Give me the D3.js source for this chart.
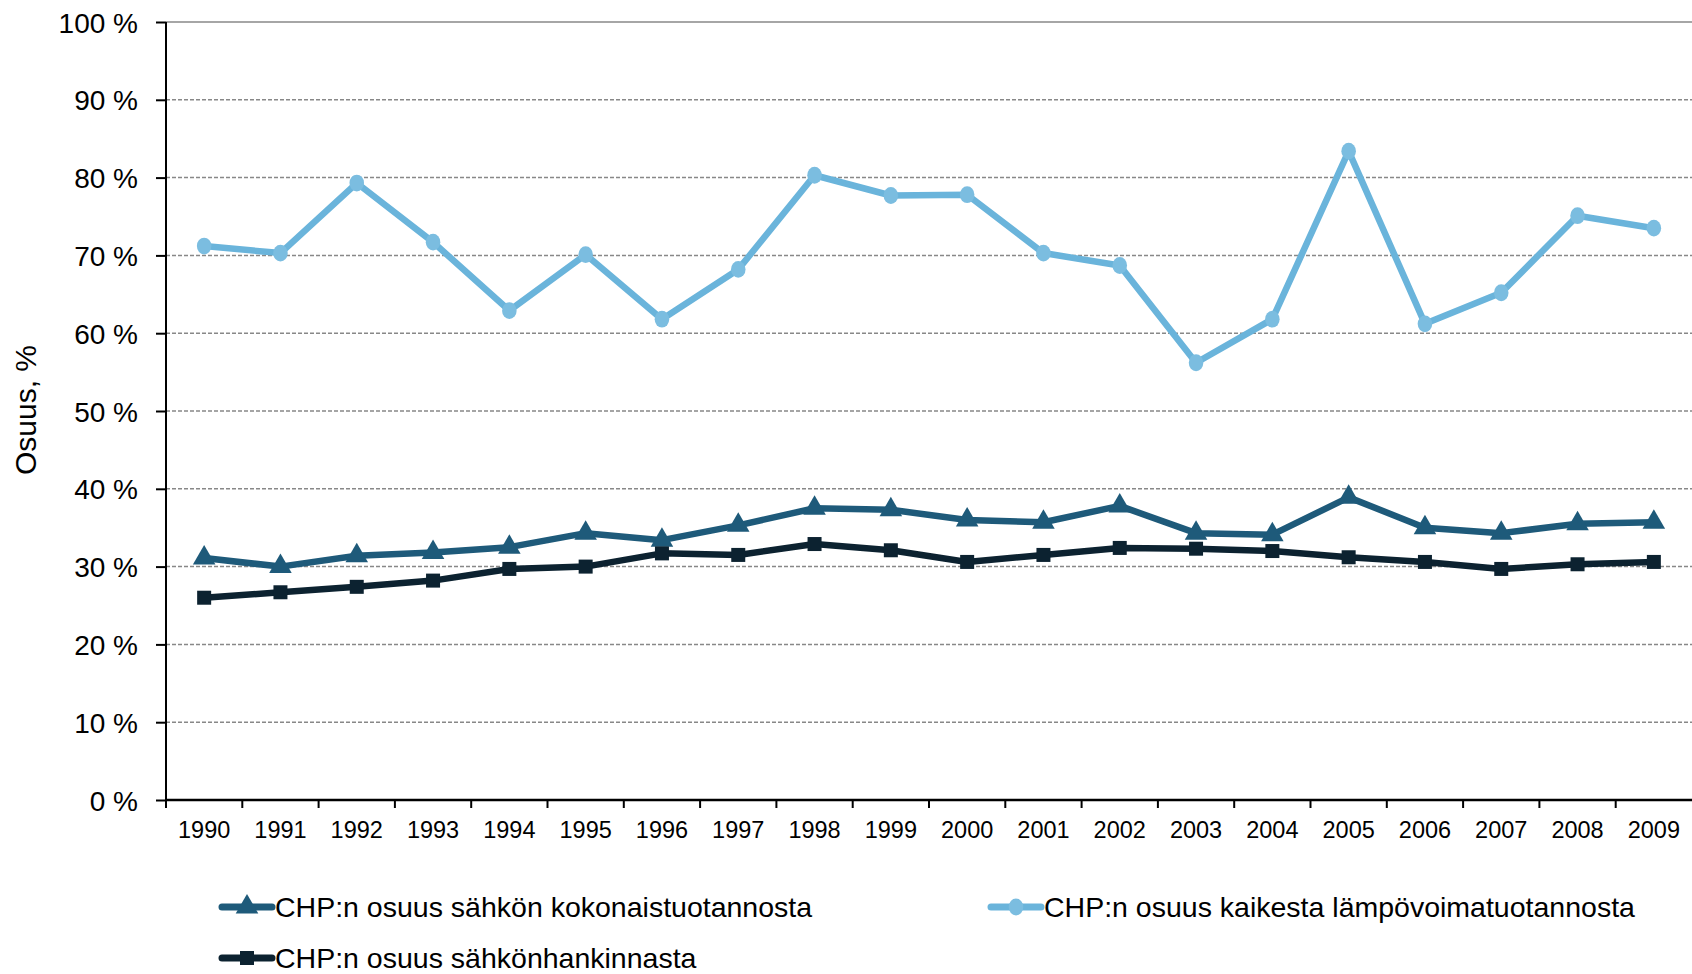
<!DOCTYPE html>
<html>
<head>
<meta charset="utf-8">
<script src="https://cdn.jsdelivr.net/npm/d3@7"></script>
<style>
  html, body { margin: 0; padding: 0; background: #fff; }
  svg { display: block; font-family: "Liberation Sans", Arial, sans-serif; }
</style>
</head>
<body>
<figure id="chart" style="margin:0"></figure>
<script>
// data
const years = ["1990","1991","1992","1993","1994","1995","1996","1997","1998","1999",
               "2000","2001","2002","2003","2004","2005","2006","2007","2008","2009"];
const shareTotalElec = [31.1, 30.0, 31.4, 31.8, 32.5, 34.3, 33.4, 35.3, 37.5, 37.3,
                        36.0, 35.7, 37.8, 34.3, 34.1, 38.9, 35.0, 34.3, 35.5, 35.7];
const shareThermal = [71.2, 70.3, 79.3, 71.7, 62.9, 70.1, 61.8, 68.2, 80.3, 77.7,
                      77.8, 70.3, 68.7, 56.2, 61.8, 83.4, 61.2, 65.2, 75.1, 73.5];
const shareSupply = [26.0, 26.7, 27.4, 28.2, 29.7, 30.0, 31.7, 31.5, 32.9, 32.1,
                     30.6, 31.5, 32.4, 32.3, 32.0, 31.2, 30.6, 29.7, 30.3, 30.6];
const yTicks = [0, 10, 20, 30, 40, 50, 60, 70, 80, 90, 100];
const seriesNames = [
  "CHP:n osuus sähkön kokonaistuotannosta",
  "CHP:n osuus kaikesta lämpövoimatuotannosta",
  "CHP:n osuus sähkönhankinnasta"
];

const width = 1692, height = 974;
const margin = { top: 22, right: 0, bottom: 174, left: 166 };
const innerW = width - margin.left - margin.right;
const innerH = height - margin.top - margin.bottom;

const series = [
  { name: seriesNames[0], values: shareTotalElec, line: "#1e5a7a", fill: "#1e5a7a", shape: "triangle" },
  { name: seriesNames[1], values: shareThermal, line: "#6ab4db", fill: "#7bbde0", shape: "circle" },
  { name: seriesNames[2], values: shareSupply, line: "#0c2230", fill: "#0c2230", shape: "square" }
];

const svg = d3.select("#chart").append("svg")
  .attr("width", width)
  .attr("height", height);

const g = svg.append("g")
  .attr("transform", "translate(" + margin.left + "," + margin.top + ")");

const x = d3.scaleBand().domain(years).range([0, innerW]);
const y = d3.scaleLinear().domain([0, 100]).range([innerH, 0]);

// gridlines
g.append("g").selectAll("line")
  .data(yTicks.filter(d => d > 0))
  .join("line")
  .attr("x1", 0).attr("x2", innerW)
  .attr("y1", d => y(d)).attr("y2", d => y(d))
  .attr("stroke", "#888")
  .attr("stroke-width", 1.5)
  .attr("stroke-dasharray", d => d === 100 ? null : "4,2");

// y axis
const yAxis = g.append("g")
  .call(d3.axisLeft(y).tickValues(yTicks).tickSize(10).tickPadding(18).tickFormat(d => d + " %"));
yAxis.select(".domain").attr("stroke", "#000").attr("stroke-width", 2).attr("d", "M0," + innerH + "V0");
yAxis.selectAll(".tick line").attr("stroke", "#000").attr("stroke-width", 2);
yAxis.selectAll("text").attr("font-size", 28).attr("fill", "#000").attr("dy", "0.36em");

// x axis
const xAxis = g.append("g")
  .attr("transform", "translate(0," + innerH + ")")
  .call(d3.axisBottom(x).tickSize(0).tickPadding(21));
xAxis.select(".domain").remove();
xAxis.selectAll("text").attr("font-size", 23.5).attr("fill", "#000");
xAxis.append("line")
  .attr("x1", 0).attr("x2", innerW)
  .attr("stroke", "#000").attr("stroke-width", 2.5);
xAxis.append("g").selectAll("line")
  .data(years)
  .join("line")
  .attr("x1", d => x(d)).attr("x2", d => x(d))
  .attr("y1", 0).attr("y2", 8)
  .attr("stroke", "#000").attr("stroke-width", 2);

// y title
svg.append("text")
  .attr("transform", "translate(36,410) rotate(-90)")
  .attr("text-anchor", "middle")
  .attr("font-size", 30)
  .text("Osuus, %");

const cx = d => x(d) + x.bandwidth() / 2;

function drawMarker(sel, shape, color, size) {
  if (shape === "circle") {
    sel.append("ellipse").attr("rx", size * 0.52).attr("ry", size * 0.6).attr("fill", color);
  } else if (shape === "square") {
    sel.append("rect").attr("x", -size / 2).attr("y", -size / 2)
      .attr("width", size).attr("height", size).attr("fill", color);
  } else {
    sel.append("path")
      .attr("d", d3.symbol(d3.symbolTriangle, size * size * 0.55)())
      .attr("fill", color);
  }
}

const line = d3.line().x((d, i) => cx(years[i])).y(d => y(d));

// draw series: thermal first, then the others on top
[series[1], series[0], series[2]].forEach(s => {
  g.append("path")
    .datum(s.values)
    .attr("d", line)
    .attr("fill", "none")
    .attr("stroke", s.line)
    .attr("stroke-width", 6.5)
    .attr("stroke-linejoin", "round");

  g.append("g").selectAll("g")
    .data(s.values)
    .join("g")
    .attr("transform", (d, i) => "translate(" + cx(years[i]) + "," + y(d) + ")")
    .each(function () {
      drawMarker(d3.select(this), s.shape, s.fill, s.shape === "triangle" ? 20 : 14);
    });
});

// legend
const legendPos = [
  { x: 222, y: 907 },
  { x: 991, y: 907 },
  { x: 222, y: 958 }
];
series.forEach((s, i) => {
  const lg = svg.append("g").attr("transform", "translate(" + legendPos[i].x + "," + legendPos[i].y + ")");
  lg.append("line")
    .attr("x1", 0).attr("x2", 50)
    .attr("stroke", s.line).attr("stroke-width", 7).attr("stroke-linecap", "round");
  const m = lg.append("g").attr("transform", "translate(25,0)");
  drawMarker(m, s.shape, s.fill, s.shape === "triangle" ? 20 : 14);
  lg.append("text")
    .attr("x", 53)
    .attr("dy", "0.36em")
    .attr("font-size", 28.5)
    .text(s.name);
});
</script>
</body>
</html>
